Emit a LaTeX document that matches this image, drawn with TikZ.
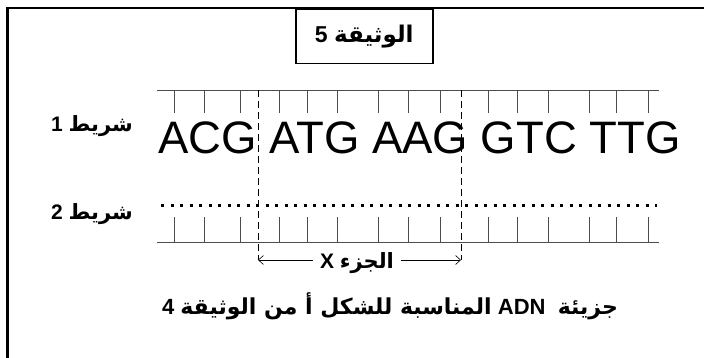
\documentclass[tikz,border=0pt]{standalone}
\usepackage{fontspec}
\setmainfont{Liberation Sans}
\newfontfamily\arabicfont[Script=Arabic]{DejaVu Sans}
\TeXXeTstate=1
\usetikzlibrary{arrows.meta}
\tikzset{
  frameline/.style={line width=2.5pt, black},
  titlebox/.style={draw, line width=1.5pt, minimum width=137pt, minimum height=54pt, inner sep=0pt, anchor=north west},
  strandline/.style={line width=0.9pt, black!70},
  tickline/.style={line width=0.7pt, black!70},
  dotline/.style={line width=3pt, dash pattern=on 3pt off 6.5pt},
  dashline/.style={line width=0.7pt, dash pattern=on 7pt off 4pt},
  arr/.style={line width=0.6pt, -{Straight Barb[length=5pt,width=9pt]}},
  lbl/.style={inner sep=0pt, font=\fontsize{21}{21}\selectfont\bfseries},
}
\begin{document}
\begin{tikzpicture}[x=1pt,y=-1pt]
\useasboundingbox (0,0) rectangle (704,358);
\fill[white] (0,0) rectangle (704,358);
% outer frame (left and top only)
\draw[frameline] (7.5,358) -- (7.5,8) -- (704,8);
% title
\node[titlebox] (title) at (295,9) {};
\node[font=\fontsize{23}{23}\selectfont\bfseries, inner sep=0pt] (titletext) at (title.center) {5 {\arabicfont\beginR الوثيقة\endR}};
% strands
\draw[strandline] (157,90) -- (659,90);
\draw[strandline] (157,242) -- (659,242);
\foreach \x in {174,204,240,279,307,337,378,408,440,488,517,548,589,616,648} {
  \draw[tickline] (\x,90) -- (\x,113);
  \draw[tickline] (\x,217) -- (\x,242);
}
\draw[dotline] (161,206) -- (657,206);
% sequence
\node[anchor=base west, inner sep=0pt, font=\fontsize{45.5}{45.5}\selectfont] (seq) at (158,154) {ACG ATG AAG GTC TTG};
% strand labels
\node[lbl, anchor=base east] (s1) at (133,132) {1 {\arabicfont\beginR شريط\endR}};
\node[lbl, anchor=base east] (s2) at (133,220) {2 {\arabicfont\beginR شريط\endR}};
% part X
\coordinate (dtl) at (258,90);
\coordinate (dtr) at (461,90);
\coordinate (dl) at (258,260);
\coordinate (dr) at (461,260);
\draw[dashline] (dtl) -- (dl);
\draw[dashline] (dtr) -- (dr);
\node[inner xsep=7pt, inner ysep=0pt, font=\fontsize{21}{21}\selectfont\bfseries] (xl) at (357,263) {X {\arabicfont\beginR الجزء\endR}};
\draw[arr] (xl.west |- dl) -- (dl);
\draw[arr] (xl.east |- dr) -- (dr);
% caption
\node[anchor=base, inner sep=0pt, font=\fontsize{22}{22}\selectfont\bfseries] (cap) at (390,314) {4 {\arabicfont\beginR المناسبة للشكل أ من الوثيقة\endR} ADN\ \ {\arabicfont\beginR جزيئة\endR}};
\end{tikzpicture}
\end{document}
